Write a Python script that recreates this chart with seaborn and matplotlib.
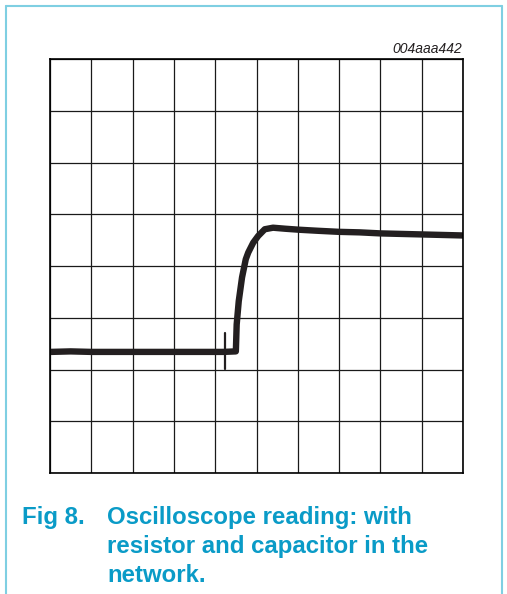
import numpy as np
import pandas as pd
import seaborn as sns
import matplotlib.pyplot as plt
from matplotlib.lines import Line2D

# trace, in divisions (10 x 8 graticule)
trace_x = [0.02, 0.5, 1.0, 1.5, 2.0, 2.5, 3.0, 3.5, 4.0, 4.2,
           4.50, 4.52, 4.57, 4.65, 4.74, 4.80, 4.92, 5.04, 5.20, 5.40,
           5.7, 6.05, 6.5, 7.0, 7.5, 8.0, 8.5, 9.0, 9.5, 10.0]
trace_y = [2.34, 2.35, 2.34, 2.34, 2.34, 2.34, 2.34, 2.34, 2.34, 2.34,
           2.35, 2.87, 3.32, 3.78, 4.13, 4.26, 4.45, 4.58, 4.71, 4.74,
           4.72, 4.70, 4.68, 4.66, 4.65, 4.63, 4.62, 4.61, 4.60, 4.59]
spike_x = [4.24, 4.24]
spike_y = [2.01, 2.71]

n_cols = 10
n_rows = 8
fig_id = "004aaa442"
caption_num = "Fig 8."
caption_lines = ["Oscilloscope reading: with",
                 "resistor and capacitor in the",
                 "network."]

sns.set_style("white")
plt.rcParams['font.family'] = ['Liberation Sans', 'DejaVu Sans']

fig = plt.figure(figsize=(5.07, 5.94), dpi=100)
ax = fig.add_axes([50 / 507, 121 / 594, 413 / 507, 414 / 594])

df = pd.DataFrame({"x": trace_x, "y": trace_y})
sns.lineplot(data=df, x="x", y="y", ax=ax, color="#231f20", linewidth=4.6,
             estimator=None, sort=False)
sns.lineplot(x=spike_x, y=spike_y, ax=ax, color="#231f20", linewidth=1.6,
             estimator=None, sort=False)

ax.set_xlim(0, n_cols)
ax.set_ylim(0, n_rows)
ax.set_xticks(np.arange(n_cols + 1))
ax.set_yticks(np.arange(n_rows + 1))
ax.grid(True, color="#1a1a1a", linewidth=0.9)
ax.tick_params(length=0, labelbottom=False, labelleft=False)
ax.set_xlabel("")
ax.set_ylabel("")
for s in ax.spines.values():
    s.set_color("black")
    s.set_linewidth(1.2)

fig.text(462 / 507, 1 - 53 / 594, fig_id, ha="right", va="baseline",
         fontsize=10, style="italic", color="#231f20")

blue = "#0a9bc7"
fig.text(22 / 507, 1 - 524 / 594, caption_num, ha="left", va="baseline",
         fontsize=17.3, fontweight="bold", color=blue)
for i, line in enumerate(caption_lines):
    fig.text(107 / 507, 1 - (524 + 29 * i) / 594, line, ha="left",
             va="baseline", fontsize=17.3, fontweight="bold", color=blue)

# light blue frame
frame = "#7fcfe2"
fig.add_artist(Line2D([5.5 / 507, 5.5 / 507], [0, 1 - 5.5 / 594], color=frame, lw=1.5))
fig.add_artist(Line2D([5.5 / 507, 501.5 / 507], [1 - 5.5 / 594] * 2, color=frame, lw=1.5))
fig.add_artist(Line2D([501.5 / 507, 501.5 / 507], [0, 1 - 5.5 / 594], color=frame, lw=1.5))

fig.savefig("out.png", dpi=100)
